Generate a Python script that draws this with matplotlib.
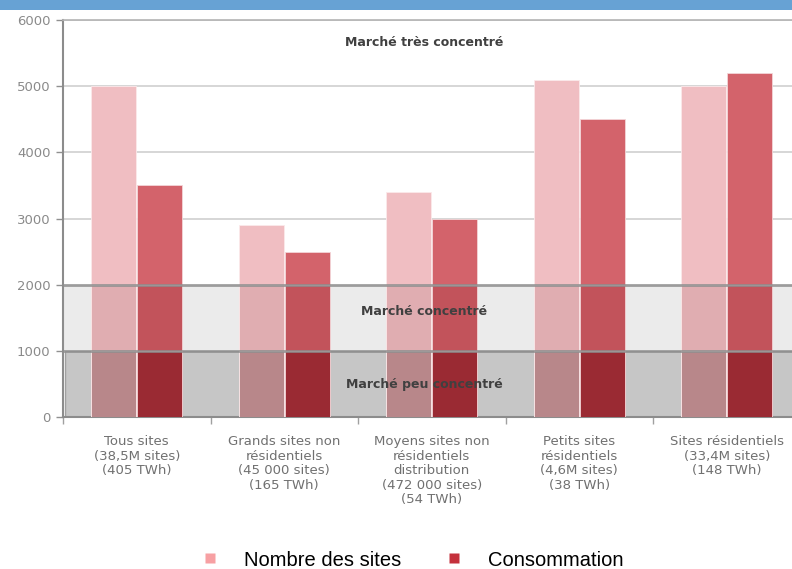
import numpy as np
import matplotlib
matplotlib.use("Agg")
import matplotlib.pyplot as plt
from matplotlib.lines import Line2D
from matplotlib.patches import Rectangle

# Indice de concentration par segment de marché
categories = [
    "Tous sites\n(38,5M sites)\n(405 TWh)",
    "Grands sites non\nrésidentiels\n(45 000 sites)\n(165 TWh)",
    "Moyens sites non\nrésidentiels\ndistribution\n(472 000 sites)\n(54 TWh)",
    "Petits sites\nrésidentiels\n(4,6M sites)\n(38 TWh)",
    "Sites résidentiels\n(33,4M sites)\n(148 TWh)",
]
nb_sites = [5000, 2900, 3400, 5100, 5000]
consommation = [3500, 2500, 3000, 4500, 5200]
seuils = [1000, 2000]
zones = ["Marché peu concentré", "Marché concentré", "Marché très concentré"]
yticks = [0, 1000, 2000, 3000, 4000, 5000, 6000]

# couleurs des barres : au-dessus de 2000, entre 1000 et 2000, sous 1000
rose = ["#f0bec2", "#e0adb1", "#b8878a"]
rouge = ["#d3636b", "#c2535b", "#9a2a33"]

plt.rcParams["font.family"] = ["DejaVu Sans"]

fig = plt.figure(figsize=(7.92, 5.69), dpi=100)
ax = fig.add_axes([63 / 792, 152 / 569, 737.5 / 792, 397 / 569])

# bandeau bleu en haut
fig.patches.append(Rectangle((0, 559 / 569), 1, 10 / 569, transform=fig.transFigure,
                             facecolor="#67a2d4", edgecolor="none", zorder=0))

x = np.arange(len(categories))
w = 0.305
off = 0.156

# zones de concentration
ax.axhspan(0, seuils[0], xmin=0.003, facecolor="#c6c6c6", edgecolor="#a0a0a0",
           linewidth=1.0, zorder=1)
ax.axhspan(seuils[0], seuils[1], facecolor="#ebebeb", edgecolor="none", zorder=1)
for yg in yticks[3:]:
    ax.axhline(yg, color="#d6d6d6", linewidth=1.4, zorder=0.5)

vals_r = np.array(nb_sites)
vals_c = np.array(consommation)
for i, top in enumerate([None, seuils[1], seuils[0]]):
    hr = vals_r if top is None else np.minimum(vals_r, top)
    hc = vals_c if top is None else np.minimum(vals_c, top)
    ax.bar(x - off, hr, w, color=rose[i], edgecolor="#fbe9ea", linewidth=0.6, zorder=2 + i)
    ax.bar(x + off, hc, w, color=rouge[i], edgecolor="#f3d6d8", linewidth=0.6, zorder=2 + i)

for s in seuils:
    ax.axhline(s, color="#8e8e8e", linewidth=2.0, alpha=0.85, zorder=6)

# libellés des zones
for yv, txt in zip([484, 1602, 5667], zones):
    ax.text(1.95, yv, txt, ha="center", va="center", fontsize=9, fontweight="bold",
            color="#404040", zorder=7)

ax.set_xlim(-0.5, 4.5)
ax.set_ylim(0, 6000)
ax.set_yticks(yticks)
ax.set_yticklabels([str(v) for v in yticks], fontsize=9.5, color="#8a8a8a")
ax.set_xticks(x)
ax.set_xticklabels(categories, fontsize=9.5, color="#707070", linespacing=1.15)
ax.set_xticks(np.arange(-0.5, 4.6, 1), minor=True)
ax.tick_params(axis="x", which="major", length=0, pad=13)
ax.tick_params(axis="x", which="minor", length=5, color="#a0a0a0", width=1)
ax.tick_params(axis="y", length=5, color="#909090", width=1, pad=4)

for side in ["left", "bottom"]:
    ax.spines[side].set_color("#8c8c8c")
    ax.spines[side].set_linewidth(1.5)
ax.spines["top"].set_color("#b4b4b4")
ax.spines["top"].set_linewidth(1.2)
ax.spines["right"].set_visible(False)

handles = [
    Line2D([], [], marker="s", linestyle="none", markersize=7,
           markerfacecolor="#f7a0a3", markeredgecolor="none"),
    Line2D([], [], marker="s", linestyle="none", markersize=7,
           markerfacecolor="#c4313c", markeredgecolor="none"),
]
fig.legend(handles, ["Nombre des sites", "Consommation"], loc="center",
           bbox_to_anchor=(412 / 792, 9 / 569), ncol=2, frameon=False,
           prop={"family": "Liberation Sans", "size": 14.5},
           handletextpad=1.2, columnspacing=2.1, handlelength=1.0)

fig.savefig("out.png", dpi=100)
